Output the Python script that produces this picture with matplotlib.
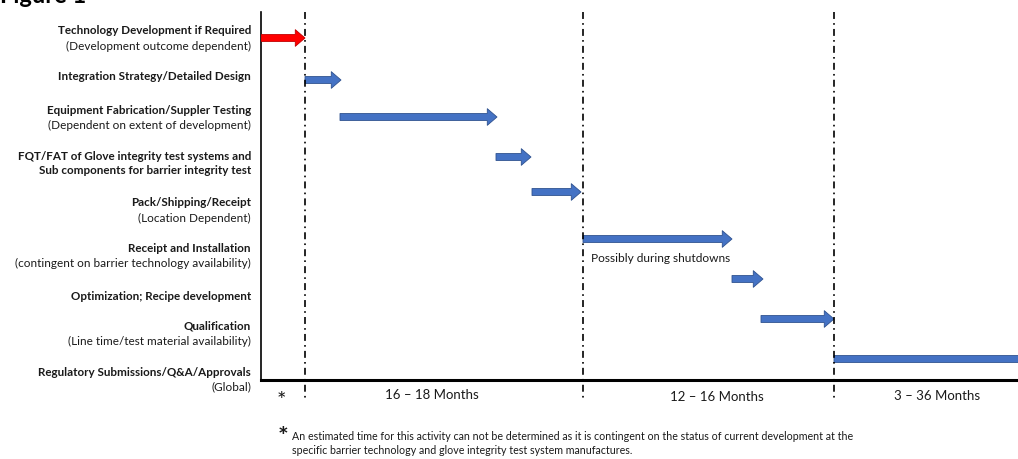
import matplotlib
matplotlib.use("Agg")
import matplotlib.pyplot as plt
from matplotlib.patches import FancyArrowPatch

plt.rcParams['font.family'] = ['Lato', 'DejaVu Sans']
plt.rcParams['lines.scale_dashes'] = False

# activities, top to bottom
tasks = ["Technology Development if Required",
         "Integration Strategy/Detailed Design",
         "Equipment Fabrication/Suppler Testing",
         "FQT/FAT of Glove integrity test systems and\nSub components for barrier integrity test",
         "Pack/Shipping/Receipt",
         "Receipt and Installation",
         "Optimization; Recipe development",
         "Qualification",
         "Regulatory Submissions/Q&A/Approvals"]
notes = ["(Development outcome dependent)",
         "",
         "(Dependent on extent of development)",
         "",
         "(Location Dependent)",
         "(contingent on barrier technology availability)",
         "",
         "(Line time/test material availability)",
         "(Global)"]

# timeline (relative units) for each arrow
start = [0, 44, 79, 235, 271, 322, 471, 500, 573]
end = [44, 80, 236, 270, 320, 471, 502, 573, 800]
arrow_y = [26, 68, 105, 145, 180, 227, 267, 307, 347]
label_y = [19, 65, 98, 145, 191, 236, 284, 314, 360]
colors = ["#FF0000"] + ["#4472C4"] * 8
edges = ["#C00000"] + ["#2F528F"] * 8

phase_x = [44, 322, 573]
phase_labels = ["16 \u2013 18 Months", "12 \u2013 16 Months", "3 \u2013 36 Months"]
phase_label_x = [171, 456, 676]
phase_label_y = [383, 385, 384]

fig = plt.figure(figsize=(10.18, 4.59), dpi=100)
ax = fig.add_axes([261 / 1018, 1 - 380 / 459, 757 / 1018, 368 / 459])
ax.set_xlim(0, 757)
ax.set_ylim(368, 0)
ax.set_xticks([])
ax.set_yticks([])
for s in ['top', 'right']:
    ax.spines[s].set_visible(False)
ax.spines['left'].set_linewidth(1.2)
ax.spines['bottom'].set_linewidth(2.2)

for i in range(len(tasks)):
    arr = FancyArrowPatch((start[i], arrow_y[i]), (end[i], arrow_y[i]),
                          arrowstyle="simple,head_length=7,head_width=12,tail_width=5",
                          mutation_scale=1, shrinkA=0, shrinkB=0,
                          fc=colors[i], ec=edges[i], lw=0.6, zorder=3)
    ax.add_patch(arr)

    lines = tasks[i].split("\n")
    for k, ln in enumerate(lines):
        ax.text(-10, label_y[i] + 14 * k, ln, ha='right', va='center',
                fontsize=8.4, fontweight='bold', color='#1a1a1a')
    if notes[i]:
        ax.text(-10, label_y[i] + 15 * len(lines), notes[i], ha='right',
                va='center', fontsize=8.5, color='#1a1a1a')

for x in phase_x:
    ax.plot([x, x], [0, 386], color='black', lw=1.2,
            linestyle=(0, (5, 3, 1.2, 3)), clip_on=False, zorder=4)

for x, y, t in zip(phase_label_x, phase_label_y, phase_labels):
    ax.text(x, y, t, ha='center', va='center', fontsize=9.5, color='#1a1a1a')

ax.text(330, 246, "Possibly during shutdowns", ha='left', va='center',
        fontsize=8.6, color='#1a1a1a')
ax.text(20, 389, "*", ha='center', va='center', fontsize=16, color='#1a1a1a')

fig.text(0.0, 1 - 3 / 459, "Figure 1", ha='left', va='baseline',
         fontsize=17, fontweight='bold')

fig.text(283 / 1018, 1 - 438 / 459, "*", ha='center', va='center',
         fontsize=18, fontweight='bold', color='#1a1a1a')
fig.text(292 / 1018, 1 - 436 / 459,
         "An estimated time for this activity can not be determined as it is "
         "contingent on the status of current development at the",
         ha='left', va='center', fontsize=7.7, color='#1a1a1a')
fig.text(292 / 1018, 1 - 451 / 459,
         "specific barrier technology and glove integrity test system manufactures.",
         ha='left', va='center', fontsize=7.7, color='#1a1a1a')

fig.savefig("out.png", dpi=100)
